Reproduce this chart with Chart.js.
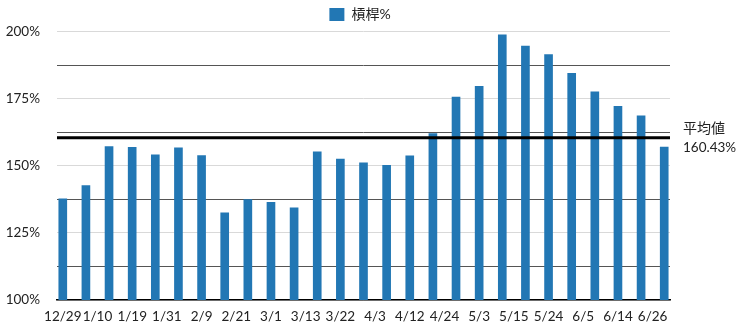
<!DOCTYPE html>
<html>
<head>
<meta charset="utf-8">
<script src="https://cdn.jsdelivr.net/npm/chart.js@4/dist/chart.umd.min.js"></script>
<style>
html,body{margin:0;padding:0;background:#fff;}
#wrap{width:740px;height:328px;}
</style>
</head>
<body>
<div id="wrap"><canvas id="c" width="740" height="328"></canvas></div>
<script>
const seriesName = '槓桿%';
const xTickLabels = ['12/29','1/10','1/19','1/31','2/9','2/21','3/1','3/13','3/22','4/3','4/12','4/24','5/3','5/15','5/24','6/5','6/14','6/26'];
const leverageValues = [137.7,142.6,157.1,156.9,154.1,156.7,153.8,132.5,137.4,136.4,134.3,155.2,152.5,151.1,150.2,153.7,162.0,175.6,179.6,198.8,194.6,191.4,184.4,177.5,172.1,168.6,157.0];
const avgValue = 160.43;
const avgLabel = '平均値';

const FONT = 'Lato, "Noto Sans CJK JP", sans-serif';

const avgPlugin = {
  id: 'avgLine',
  afterDatasetsDraw(chart) {
    const {ctx, chartArea, scales} = chart;
    const y = scales.y.getPixelForValue(avgValue);
    ctx.save();
    ctx.strokeStyle = '#000';
    ctx.lineWidth = 3;
    ctx.beginPath();
    ctx.moveTo(chartArea.left, y);
    ctx.lineTo(chartArea.right, y);
    ctx.stroke();
    ctx.fillStyle = '#222';
    ctx.textAlign = 'left';
    ctx.textBaseline = 'middle';
    ctx.font = '14px ' + FONT;
    ctx.fillText(avgLabel, chartArea.right + 13, y - 9);
    ctx.font = '13.5px ' + FONT;
    ctx.fillText(avgValue.toFixed(2) + '%', chartArea.right + 13, y + 10);
    ctx.restore();
  }
};

new Chart(document.getElementById('c'), {
  type: 'bar',
  data: {
    datasets: [{
      label: seriesName,
      data: leverageValues.map((v, i) => ({x: i, y: v})),
      backgroundColor: '#2277b4',
      borderWidth: 0,
      barThickness: 8
    }]
  },
  options: {
    responsive: false,
    animation: false,
    layout: {padding: {left: 0, right: 20, top: 0, bottom: 0}},
    plugins: {
      legend: {
        position: 'top',
        labels: {
          boxWidth: 15,
          boxHeight: 13,
          padding: 7.5,
          color: '#222',
          font: {family: FONT, size: 14}
        }
      },
      tooltip: {enabled: false}
    },
    scales: {
      x: {
        type: 'linear',
        offset: false,
        min: -0.25,
        max: 26.25,
        afterBuildTicks: (scale) => {
          scale.ticks = xTickLabels.map((_, i) => ({value: i * 1.5}));
        },
        afterFit: (scale) => { scale.height = 28; },
        grid: {display: false, drawTicks: false, offset: false},
        border: {display: true, color: '#000', width: 1.5},
        ticks: {
          autoSkip: false,
          maxRotation: 0,
          padding: 9,
          color: '#222',
          font: {family: FONT, size: 13.5},
          callback: (value, index) => xTickLabels[index]
        }
      },
      y: {
        min: 100,
        max: 200,
        afterFit: (scale) => { scale.width = 57; },
        grid: {
          drawTicks: false,
          color: (ctx) => (ctx.tick && ctx.tick.value % 25 !== 0) ? '#555' : '#d9d9d9',
          lineWidth: 1
        },
        border: {display: false},
        ticks: {
          stepSize: 12.5,
          padding: 17,
          color: '#222',
          font: {family: FONT, size: 13.5},
          callback: (value) => value % 25 === 0 ? value + '%' : ''
        }
      },
      yRight: {
        position: 'right',
        afterFit: (scale) => { scale.width = 50; },
        grid: {display: false, drawTicks: false},
        border: {display: false},
        ticks: {display: false}
      }
    }
  },
  plugins: [avgPlugin]
});
</script>
</body>
</html>
